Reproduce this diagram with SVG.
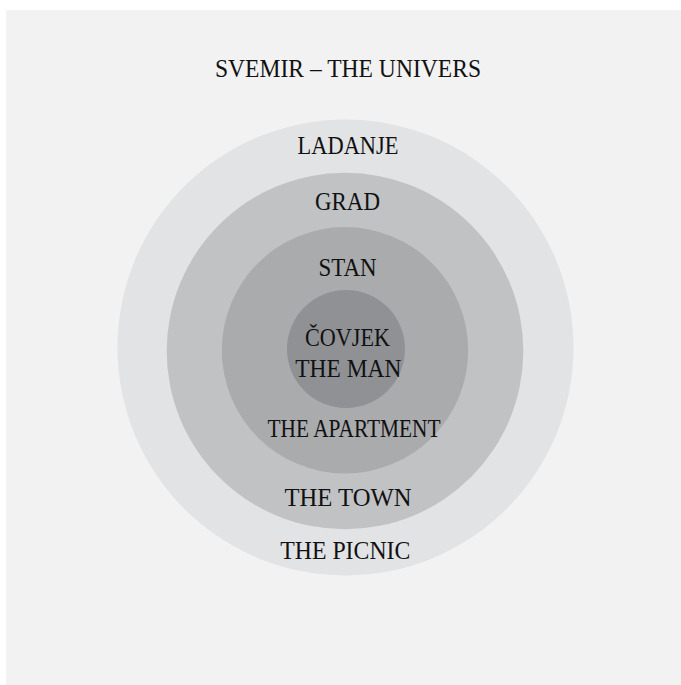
<svg xmlns="http://www.w3.org/2000/svg" width="681" height="685" viewBox="0 0 681 685">
<style>
text{font-family:"Liberation Serif","Times New Roman",serif;font-size:25px;fill:#111;text-anchor:middle}
</style>
<rect x="0" y="0" width="681" height="685" fill="#ffffff"/>
<rect x="6" y="10" width="675" height="675" fill="#f2f2f2"/>
<g id="svemir"><text x="348" y="77" textLength="266" lengthAdjust="spacingAndGlyphs">SVEMIR – THE UNIVERS</text></g>
<g id="ladanje">
<circle cx="345.5" cy="347.5" r="228" fill="#e2e3e5"/>
<text x="348" y="154" textLength="101" lengthAdjust="spacingAndGlyphs">LADANJE</text>
</g>
<g id="grad">
<circle cx="345" cy="351" r="178.3" fill="#c1c2c4"/>
<text x="347.5" y="209.5" textLength="65" lengthAdjust="spacingAndGlyphs">GRAD</text>
</g>
<g id="stan">
<circle cx="345" cy="350.3" r="123.2" fill="#aaabad"/>
<text x="347.5" y="275.5" textLength="58" lengthAdjust="spacingAndGlyphs">STAN</text>
</g>
<g id="covjek">
<circle cx="346" cy="349" r="59" fill="#909195"/>
<text x="347.5" y="345.7" textLength="85" lengthAdjust="spacingAndGlyphs">ČOVJEK</text>
<text x="348.3" y="376.7" textLength="106" lengthAdjust="spacingAndGlyphs">THE MAN</text>
</g>
<g id="labels">
<text x="354" y="436.7" textLength="173" lengthAdjust="spacingAndGlyphs">THE APARTMENT</text>
<text x="348" y="506" textLength="127" lengthAdjust="spacingAndGlyphs">THE TOWN</text>
<text x="345.3" y="559.3" textLength="130" lengthAdjust="spacingAndGlyphs">THE PICNIC</text>
</g>
<g id="connectors"></g>
</svg>
